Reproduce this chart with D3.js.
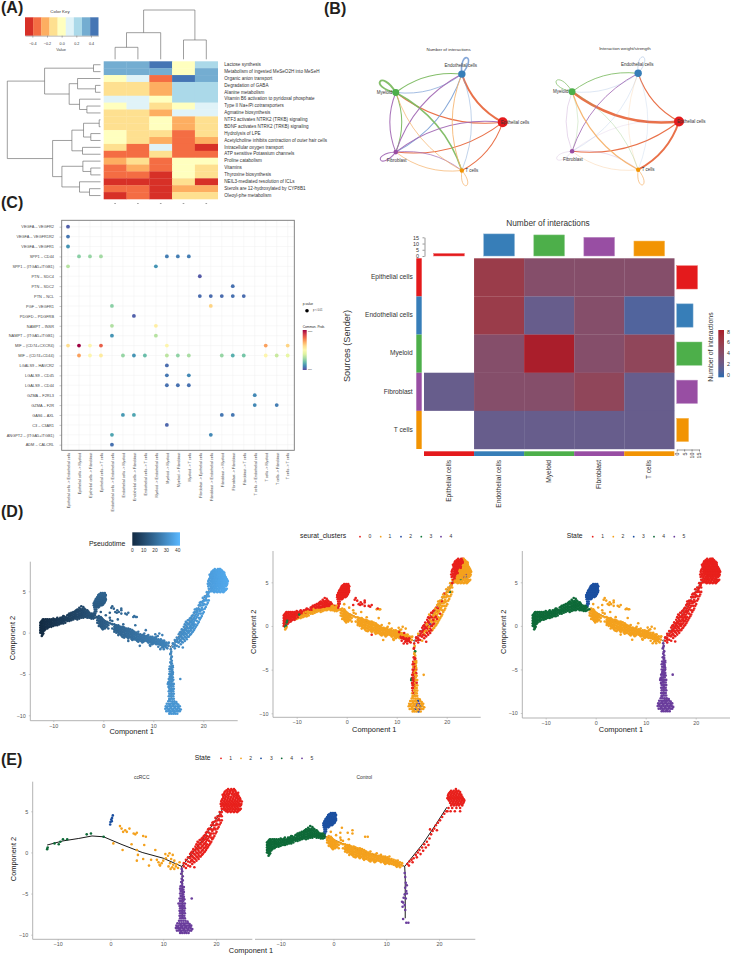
<!DOCTYPE html>
<html>
<head>
<meta charset="utf-8">
<script src="https://cdnjs.cloudflare.com/ajax/libs/d3/7.8.5/d3.min.js"></script>
<style>
  html, body { margin: 0; padding: 0; background: #fff; }
  svg { display: block; font-family: "Liberation Sans", Arial, sans-serif; }
</style>
</head>
<body>
<svg id="figure" width="731" height="956" viewBox="0 0 731 956"></svg>
<script>
// ---- (A) pathway heatmap ----
const pathways = ["Lactose synthesis","Metabolism of ingested MeSeO2H into MeSeH","Organic anion transport","Degradation of GABA","Alanine metabolism","Vitamin B6 activation to pyridoxal phosphate","Type II Na+/Pi cotransporters","Agmatine biosynthesis","NTF3 activates NTRK2 (TRKB) signaling","BDNF activates NTRK2 (TRKB) signaling","Hydrolysis of LPE","Acetylcholine inhibits contraction of outer hair cells","Intracellular oxygen transport","ATP sensitive Potassium channels","Proline catabolism","Vitamins","Thyroxine biosynthesis","NEIL3-mediated resolution of ICLs","Sterols are 12-hydroxylated by CYP8B1","Oleoyl-phe metabolism"];
const pathwayScores = [
 [.33,.33,.44,0,.22],[.33,.33,.33,0,.33],[0,.11,-.33,.44,.33],[-.11,-.11,-.22,.22,.22],[-.11,-.11,-.22,.22,.22],
 [.11,.11,0,.22,.22],[0,.11,-.11,0,.11],[-.11,-.11,-.22,.11,.11],[-.11,-.11,0,-.22,-.11],[-.11,-.11,0,-.22,-.11],
 [0,-.11,-.11,-.33,-.11],[0,-.11,-.22,-.33,-.22],[-.11,-.33,.11,-.33,-.44],[-.33,-.33,-.11,-.33,-.33],[-.22,-.11,-.33,0,0],
 [-.33,-.22,-.33,0,-.11],[-.33,-.33,-.44,0,-.11],[-.44,-.44,-.44,-.11,-.44],[-.33,-.33,-.44,-.22,-.22],[-.44,-.33,-.44,-.11,-.11]];
const keyColors = ["#d73027","#f46d43","#fdae61","#fee090","#ffffbf","#e0f3f8","#abd9e9","#74add1","#4575b4"];
const keyTicks = [-0.4,-0.2,0,0.2,0.4];
// dendrograms: [merge height, child, child]; numbers are leaf positions
const rowTree = [10,[6,[.75,0,1],[3.36,[2.46,2,[.54,3,4]],[2.25,5,[1.46,6,7]]]],[5.14,[3.07,[1.82,[.14,8,9],[1.04,10,11]],[1.93,12,13]],[4.14,[1.89,14,[1.04,15,16]],[2.25,17,[1.18,18,19]]]]];
const colTree = [10,[5.4,[2.43,0,1],2],[3.92,3,4]];

// ---- (B) cell-cell communication networks ----
const cellTypes = ["Epithelial cells","Endothelial cells","Myeloid","Fibroblast","T cells"];
const cellColors = ["#E41A1C","#377EB8","#4DAF4A","#984EA3","#F29403"];
const edgeColors = ["#E8693F","#7FA3D6","#7DBB62","#A36BB5","#F5B26B"];
const nodeRadius = [5,3.7,3.4,2.3,2.2];
const countEdges = [[0,1,2.2],[0,2,1],[0,3,1],[0,4,1],[1,2,.8],[1,3,1],[1,4,.6],[2,1,1],[2,3,1],[2,4,1.6],[3,0,1],[3,1,1],[3,2,1],[3,4,.8],[4,1,.9],[4,2,.8],[4,3,.8],[1,1,1.8],[2,2,2.2],[3,3,1],[4,4,.8]];
const weightEdges = [[0,1,1],[0,2,3.4],[0,3,1],[0,4,2.4],[1,2,.35],[1,3,.3],[1,4,.25],[2,1,.9],[2,3,.35],[2,4,.4],[3,0,.15],[3,1,.9],[3,2,.35],[3,4,.3],[4,1,.3],[4,2,1.2],[4,3,.4],[1,1,.5],[2,2,.8],[3,3,.25],[4,4,.8]];

// ---- (C) ligand-receptor dot plot ----
const lrPairs = ["VEGFA – VEGFR2","VEGFA – VEGFR1R2","VEGFA – VEGFR1","SPP1 – CD44","SPP1 – (ITGA5+ITGB1)","PTN – SDC4","PTN – SDC2","PTN – NCL","PGF – VEGFR1","PDGFD – PDGFRB","NAMPT – INSR","NAMPT – (ITGA5+ITGB1)","MIF – (CD74+CXCR4)","MIF – (CD74+CD44)","LGALS9 – HAVCR2","LGALS9 – CD45","LGALS9 – CD44","GZMA – F2RL3","GZMA – F2R","GAS6 – AXL","C3 – C3AR1","ANGPT2 – (ITGA5+ITGB1)","ADM – CALCRL"];
const cellPairs = ["Epithelial cells -> Endothelial cells","Epithelial cells -> Myeloid","Epithelial cells -> Fibroblast","Epithelial cells -> T cells","Endothelial cells -> Endothelial cells","Endothelial cells -> Myeloid","Endothelial cells -> Fibroblast","Endothelial cells -> T cells","Myeloid -> Endothelial cells","Myeloid -> Myeloid","Myeloid -> Fibroblast","Myeloid -> T cells","Fibroblast -> Epithelial cells","Fibroblast -> Endothelial cells","Fibroblast -> Myeloid","Fibroblast -> Fibroblast","Fibroblast -> T cells","T cells -> Endothelial cells","T cells -> Myeloid","T cells -> Fibroblast","T cells -> T cells"];
// [ligand-receptor row, cell pair column, relative communication probability]
const commProb = [[0,0,.03],[1,0,.07],[2,0,.12],[3,1,.25],[3,2,.27],[3,3,.29],[3,9,.08],[3,10,.08],[3,11,.08],[4,0,.32],[4,8,.12],
 [5,12,.02],[6,15,.06],[7,12,.05],[7,13,.05],[7,14,.05],[7,15,.06],[7,16,.05],[8,4,.25],[8,13,.62],[9,6,.03],[10,4,.31],[10,8,.55],[11,4,.12],[11,8,.32],
 [12,0,.6],[12,1,1],[12,2,.52],[12,3,.83],[12,9,.52],[12,18,.72],[12,20,.62],
 [13,1,.72],[13,2,.52],[13,3,.56],[13,5,.27],[13,6,.12],[13,7,.2],[13,9,.33],[13,10,.26],[13,11,.3],[13,14,.27],[13,15,.17],[13,16,.22],[13,18,.52],[13,19,.35],[13,20,.42],
 [14,9,.05],[15,9,.07],[15,11,.1],[16,9,.06],[16,10,.06],[16,11,.06],[17,17,.1],[18,17,.1],[18,19,.08],[19,5,.13],[19,6,.15],[19,14,.07],[19,15,.07],[20,9,.04],[21,4,.15],[21,13,.1],[22,4,.06]];

// ---- (C) interaction count heatmap ----
const interactionCounts = [[null,6,4,4,4],[null,6,2,4,1],[null,4,8,4,5],[2,4,4,5,2],[null,2,2,2,2]];
const incomingTotals = [2,17.7,16.9,15,12];
const outgoingTotals = [14,11,17,14,8];
const totalTicks = [0,5,10,15];
const countLegendTicks = [0,2,4,6,8];

// ---- (D, E) single-cell trajectory; each point is [component 1, component 2, seurat cluster] ----
const ccrccState1 = [[13.9,-1.7,0],[13.9,-1.3,0],[14.3,-1.9,0],[14.3,-1.4,0],[14.3,-.9,1],[14.7,-1.6,0],[14.7,-1.1,0],[14.7,-.6,0],[15.1,-1.7,1],[15.1,-1.2,0],[15.1,-.7,0],[15.1,-.2,0],[15.5,-1.4,0],[15.5,-.9,1],[15.5,-.4,0],[15.5,.1,0],[15.9,-1.8,0],[15.9,-1.2,0],[15.9,-.7,0],[15.9,-.2,0],[15.9,.3,1],[16.3,-1,0],[16.3,-.5,1],[16.3,0,0],[16.3,.5,0],[16.3,1,0],[16.7,-.8,0],[16.7,-.3,0],[16.7,.2,4],[16.7,.7,1],[16.7,1.2,0],[17.1,-.5,1],[17.1,0,0],[17.1,.5,1],[17.1,1,0],[17.1,1.5,0],[17.5,-.2,1],[17.5,.3,0],[17.5,.8,1],[17.5,1.3,1],[17.5,1.8,0],[17.9,.1,1],[17.9,.6,1],[17.9,1.1,0],[17.9,1.6,1],[17.9,2.1,0],[18.3,.5,1],[18.3,1,1],[18.3,1.5,1],[18.3,2,0],[18.3,2.5,1],[18.7,.9,1],[18.7,1.4,0],[18.7,1.9,1],[18.7,2.4,1],[18.7,2.9,1],[19.1,1.3,1],[19.1,1.8,1],[19.1,2.3,1],[19.1,2.8,0],[19.1,3.3,1],[19.5,1.8,1],[19.5,2.3,1],[19.5,2.8,1],[19.5,3.3,1],[19.5,3.7,0],[19.9,2.3,1],[19.9,2.8,1],[19.9,3.3,1],[19.9,3.8,1],[19.9,4.2,1],[20.3,2.9,1],[20.3,3.4,1],[20.3,3.9,1],[20.3,4.4,1],[20.7,3.4,1],[20.7,3.9,3],[20.7,4.4,1],[20.7,4.9,1],[21.1,3.9,1],[21.1,4.4,1],[21.1,4.9,0],[21.1,5.3,1],
 [15.3,-1,0],[15.3,-.5,0],[15.3,0,0],[15.7,-1.1,0],[15.7,-.6,1],[15.7,-.1,0],[15.7,.4,0],[16.1,-.8,0],[16.1,-.3,0],[16.1,.2,1],[16.1,.7,0],[16.5,-.6,0],[16.5,-.1,1],[16.5,.4,0],[16.5,.9,0],[16.5,1.3,1],[16.9,-.5,0],[16.9,0,0],[16.9,.5,1],[16.9,1,0],[16.9,1.5,0],[17.3,-.3,1],[17.3,.2,0],[17.3,.7,0],[17.3,1.2,1],[17.3,1.7,0],[17.7,0,1],[17.7,.5,1],[17.7,1,0],[17.7,1.5,1],[17.7,2,1],[18.1,.3,1],[18.1,.8,0],[18.1,1.3,1],[18.1,1.8,1],[18.1,2.4,1],[18.5,.7,1],[18.5,1.7,1],[18.5,2.8,1],[18.9,1.1,1],[18.9,2.1,1],[19.3,1.6,1],[19.3,2.6,1],[19.3,3.6,1],[19.7,2,1],[19.7,3,1],[20.1,2.5,1],[20.1,3.5,1],[20.5,3.1,1],[20.5,4.1,1],[20.9,3.6,1],[20.9,4.6,1],
 [22.3,7.7,0],[22.9,7.7,0],[23.4,7.7,1],[21.7,7.4,0],[22.2,7.4,0],[22.7,7.4,0],[23.2,7.4,0],[23.7,7.4,1],[21.5,7.1,0],[22,7.1,0],[22.5,7.1,0],[23,7.1,0],[23.5,7.1,1],[24,7.1,1],[21.4,6.8,0],[21.9,6.8,0],[22.4,6.8,0],[22.9,6.8,0],[23.4,6.8,1],[23.9,6.8,1],[24.3,6.8,1],[21.2,6.5,0],[21.7,6.5,0],[22.2,6.5,0],[22.7,6.5,1],[23.2,6.5,1],[23.7,6.5,1],[24.2,6.5,1],[24.6,6.5,1],[21,6.2,0],[21.5,6.2,0],[22,6.2,0],[22.5,6.2,1],[23,6.2,1],[23.5,6.2,1],[24,6.2,1],[24.5,6.2,1],[24.9,6.2,1],[20.9,5.9,0],[21.4,5.9,0],[21.9,5.9,0],[22.4,5.9,1],[22.9,5.9,1],[23.4,5.9,1],[23.9,5.9,4],[24.4,5.9,1],[24.8,5.9,1],[21,5.6,0],[21.5,5.6,0],[22,5.6,1],[22.5,5.6,1],[23,5.6,1],[23.5,5.6,4],[24,5.6,2],[24.5,5.6,1],[21.3,5.3,0],[21.8,5.3,1],[22.3,5.3,1],[22.8,5.3,3],[23.3,5.3,1],[23.8,5.3,1],[24.3,5.3,1],[24.7,5.3,1],[21.9,5,1],[22.5,5,1],[23.1,5,1],[23.7,5,1],[24.2,5,1],
 [21.25,7,0],[21.8,6.65,0],[22.3,6.95,0],[22.8,6.65,0],[23.3,6.95,1],[23.8,6.65,1],[21.2,6,0],[21.7,6.05,0],[22.2,6.05,0],[22.7,6.05,1],[23.2,6.05,1],[23.7,6.05,1],[24.2,6.05,1],[21.6,5.45,0],[22.1,5.45,1],[22.6,5.45,1],[23.1,5.45,1],[23.6,5.45,1],[24.1,5.45,1],
 [22,7.55,0],[22.6,7.55,0],[23.1,7.55,0],[23.6,7.55,1],[21.6,7.25,0],[22.15,7.25,0],[22.65,7.25,0],[23.2,7.25,0],[23.75,7.25,1],[24.2,7.25,1],[21.7,6.95,0],[23.8,6.95,1],[24.2,6.95,1],[21.4,6.65,0],[22.3,6.65,0],[23.3,6.65,1],[24,6.65,1],[24.5,6.65,1],[21.1,6.35,0],[21.6,6.35,0],[22.1,6.35,0],[22.6,6.35,1],[23.1,6.35,1],[23.6,6.35,1],[24.1,6.35,1],[24.6,6.35,1],[21.2,5.75,0],[21.7,5.75,0],[22.2,5.75,1],[22.7,5.75,1],[23.2,5.75,1],[23.7,5.75,1],[24.2,5.75,1],[24.7,5.75,1],[21.6,5.15,1],[22.1,5.15,1],[22.6,5.15,1],[23.1,5.15,1],[23.6,5.15,1],[24.1,5.15,1],[24.5,5.15,1],[22.2,4.9,1],[22.8,4.9,1],[23.4,4.9,1],[24,4.9,1]];
const ccrccState2 = [[1.8,3.2,0],[2.8,2.7,0],[2.1,2.9,0],[3.1,2.5,0],[2.4,2.5,0],[3.6,2.9,0],[4.4,2.3,0],[5,2.4,0],[4.7,2.2,0],[6.2,2,0],[6.7,1.9,1],[.55,1.1,1],[4,1,1],[6.4,.9,1],[2.3,.3,1],[5,.3,1],[8.5,.3,1],[5.2,-.3,1],[5,-1,0],[6.2,-.8,1],[7.7,-.9,1],[8.8,-.9,1],[7.3,-1.6,1],[9.4,-1.6,1],[10,-1,1],[10.4,-.2,1],[11.2,-.1,1],[11.8,-.3,1],[10.5,-.7,0],[11.5,-.8,0],[12.1,-1,1],[11.3,-1.3,0],[11.9,-1.5,0],[12.5,-1.4,0],[13.1,-1.2,1],[11.4,-2,0],[12.1,-2,0],[12.8,-1.9,0],[9.1,-1.2,1],[9.3,-1.5,1],[11,-1.7,0],[11.7,-1.8,0],[12.4,-1.7,0],[10.9,-.4,1],[9.7,-1.3,1]];
const ccrccState3 = [[.45,4.5,0],[.3,4.2,0],[.15,4,0],[0,3.7,0],[-.05,3.4,0],[.25,3.8,0]];
const ccrccState4 = [[-12,.4,3],[-11.9,.6,3],[-10.6,1.1,0],[-9.5,1.3,3],[-9,1.6,0],[-9.8,1,0],[-8.2,1.6,1],[-4.5,2.2,0],[-3.7,2.3,0],[-1.3,1.9,1]];
const ccrccState5 = [[13.5,-2,0],[13.6,-2.3,1],[13.4,-2.6,0],[13.7,-2.9,3],[13.5,-3.2,1],[13.7,-3.4,1],[13.4,-3.6,0],[13.6,-3.8,0],[13.3,-4.1,0],[13.6,-4.1,1],[13.9,-4.2,1],[13.2,-4.4,0],[13.5,-4.4,0],[13.8,-4.5,1],[13.3,-4.7,1],[13.6,-4.7,0],[13.9,-4.8,1],[13.2,-5,0],[13.5,-5,0],[13.8,-5.1,1],[13.3,-5.3,0],[13.6,-5.3,1],[13.9,-5.4,0],[13.1,-5.6,0],[13.4,-5.6,0],[13.7,-5.6,1],[14,-5.7,1],[13.2,-5.9,0],[13.5,-5.9,0],[13.8,-5.9,1],[12.9,-6.2,3],[13.2,-6.2,0],[13.5,-6.2,0],[13.8,-6.2,1],[14.1,-6.2,1],[13.1,-6.5,0],[13.4,-6.5,0],[13.7,-6.5,1],[14,-6.5,0],[13.2,-6.8,0],[13.5,-6.8,0],[13.8,-6.8,1],[14.1,-6.8,1],[13.1,-7.1,0],[13.4,-7.1,0],[13.7,-7.1,1],[14,-7.1,1],[13.2,-7.4,0],[13.5,-7.4,1],[13.8,-7.4,1],[14.1,-7.4,1],[13.1,-7.7,1],[13.4,-7.7,0],[13.7,-7.7,1],[14,-7.7,1],[13.2,-8,1],[13.5,-8,1],[13.8,-8,1],[14.1,-8,1],[15.4,-5.6,1],
 [13,-8.3,1],[13.4,-8.3,1],[13.8,-8.3,1],[14.2,-8.3,1],[14.6,-8.4,1],[12.7,-8.6,1],[13.1,-8.6,1],[13.5,-8.6,1],[13.9,-8.6,1],[14.3,-8.6,2],[14.7,-8.6,1],[15,-8.7,1],[12.5,-8.9,1],[12.9,-8.9,1],[13.3,-8.9,1],[13.7,-8.9,1],[14.1,-8.9,2],[14.5,-8.9,4],[14.9,-8.9,1],[15.3,-8.9,1],[12.4,-9.2,1],[12.8,-9.2,1],[13.2,-9.2,1],[13.6,-9.2,1],[14,-9.2,4],[14.4,-9.2,1],[14.8,-9.2,2],[15.2,-9.2,1],[15.5,-9.3,1],[12.6,-9.5,1],[13,-9.5,1],[13.4,-9.5,1],[13.8,-9.5,2],[14.2,-9.5,1],[14.6,-9.5,4],[15,-9.5,1],[15.3,-9.5,1],[13.2,-9.8,1],[13.6,-9.8,1],[14,-9.8,1],[14.4,-9.8,2],[14.8,-9.8,1],[13.3,-8.75,1],[14,-8.75,1],[12.7,-9.05,1],[13.5,-9.05,1],[14.3,-9.05,1],[15,-9.05,1],[13.1,-9.35,1],[13.9,-9.35,1],[14.7,-9.35,1],[13.4,-9.65,1],[14.2,-9.65,1]];
const controlState1 = [[14,-1.4,0],[14.4,-1.1,0],[14.3,-1.6,0],[14.8,-.9,0],[15.2,-.7,1],[15,-1.2,0],[15.6,-.3,0],[16,0,1],[15.8,-.6,0],[16.3,.3,0],[16.5,-.2,1],[16.8,.6,0],[17,.2,1],[17.2,1,1],[17.5,.6,0],[17.7,1.3,1],[18,.9,1],[18.2,1.7,0],[18.5,2.2,1],[18.8,2.6,1],[18.3,2.8,1],[19.1,2.9,1],[19.4,3.3,1],[19.8,3.6,1],[20.2,3.9,1],[19.6,2.7,1],[20.6,4.3,1],[21,4.7,1],[21.4,5,0],
 [23.2,7.7,0],[22.3,7.5,0],[22.8,7.5,0],[23.3,7.5,0],[23.7,7.5,1],[21.9,7.2,0],[22.4,7.2,0],[22.9,7.2,0],[23.4,7.2,1],[23.9,7.2,1],[21.7,6.9,0],[22.2,6.9,0],[22.7,6.9,0],[23.2,6.9,1],[23.7,6.9,1],[24.2,6.9,1],[21.6,6.6,0],[22.1,6.6,0],[22.6,6.6,0],[23.1,6.6,1],[23.6,6.6,1],[24.1,6.6,1],[24.5,6.6,1],[21.9,6.3,0],[22.4,6.3,0],[22.9,6.3,1],[23.4,6.3,1],[23.9,6.3,1],[24.4,6.3,1],[24.8,6.3,1],[22.1,6,0],[22.6,6,1],[23.1,6,1],[23.6,6,4],[24.1,6,1],[24.6,6,1],[22.3,5.7,1],[22.8,5.7,1],[23.3,5.7,1],[23.8,5.7,1],[24.4,5.7,1],[21.8,5.4,0],[22.5,5.4,1],[23.3,5.4,2],[24,5.4,1],[21.6,5,1],[22.2,5,1],[23,5,1],[24,5,1],
 [22.1,7.35,0],[22.6,7.35,0],[23.1,7.35,0],[23.5,7.35,1],[24,7.35,1],[21.8,7.05,0],[22.3,7.05,0],[22.8,7.05,0],[23.3,7.05,1],[23.8,7.05,1],[24.2,7.05,1],[21.9,6.75,0],[22.4,6.75,0],[22.9,6.75,1],[23.4,6.75,1],[23.9,6.75,1],[24.4,6.75,1],[21.8,6.45,0],[22.3,6.45,0],[22.8,6.45,1],[23.3,6.45,1],[23.8,6.45,1],[24.3,6.45,1],[24.7,6.45,1],[22.2,6.15,0],[22.7,6.15,1],[23.2,6.15,1],[23.7,6.15,1],[24.2,6.15,1],[24.7,6.15,1],[22.4,5.85,1],[22.9,5.85,1],[23.4,5.85,1],[23.9,5.85,1],[24.4,5.85,1]];
const controlState2 = [[-1.2,1.8,1],[-1.2,1.5,1],[-1.2,1.2,1],[-.9,2,1],[-.9,1.7,1],[-.9,1.4,1],[-.9,1.1,1],[-.9,.8,1],[-.5,1.9,1],[-.5,1.6,1],[-.5,1.3,1],[-.5,1,1],[-.5,.7,1],[-.1,1.6,1],[-.1,1.3,1],[-.1,1,1],[-.1,.7,1],[-.1,.4,1],[.3,1.4,1],[.3,1.1,1],[.3,.8,1],[.3,.5,1],[.7,1.3,1],[.7,1,1],[.7,.7,1],[1,1.2,1],[1,.9,1],[1,.5,1],[1.4,1.5,1],[1.4,1.1,1],[1.8,1.4,1],[1.8,1,1],[1.8,.5,1],[2.2,1,1],[2.2,.7,1],[2.2,.4,1],[2.2,.1,1],[2.6,.9,1],[2.6,.6,1],[2.6,.3,1],[2.6,0,1],[3,.9,1],[3,.6,1],[3,.3,1],[3,0,1],[3,-.3,1],[3.4,.7,1],[3.4,.4,1],[3.4,.1,1],[3.4,-.2,1],[3.8,.7,1],[3.8,.4,1],[3.8,.1,1],[3.8,-.2,1],[3.8,-.5,1],[4.2,.6,1],[4.2,.3,1],[4.2,0,1],[4.2,-.3,1],[4.2,-.6,1],[4.6,.5,1],[4.6,.2,1],[4.6,-.1,1],[4.6,-.4,1],[5,.5,1],[5,.2,1],[5,-.1,1],[5,-.4,1],[5,-.7,1],[5.4,.4,1],[5.4,.1,1],[5.4,-.2,1],[5.4,-.5,1],[5.8,.3,1],[5.8,0,1],[5.8,-.3,1],[5.8,-.6,1],[5.8,-.9,1],[6.2,.1,1],[6.2,-.2,1],[6.2,-.5,1],[6.2,-.8,1],[6.6,0,1],[6.6,-.3,1],[6.6,-.6,1],[6.6,-.9,1],[7,.1,1],[7,-.2,1],[7,-.5,1],[7,-.8,1],[7,-1.1,1],[7.4,-.2,1],[7.4,-.5,1],[7.4,-.8,1],[7.8,-.3,1],[7.8,-.6,1],[7.8,-.9,1],[7.8,-1.2,1],[8.2,-.1,1],[8.2,-.4,1],[8.2,-.7,1],[8.2,-1,1],[8.6,-.4,1],[8.6,-.7,1],[8.6,-1,1],[9,-.3,1],[9,-.6,1],[9,-.9,1],[9,-1.2,1],[9.4,-.5,1],[9.4,-.8,1],[9.4,-1.1,1],[9.8,-.5,1],[9.8,-.8,1],[9.8,-1.1,1],[9.8,-1.4,1],[10.2,-.6,1],[10.2,-.9,1],[10.2,-1.2,1],[10.6,-.5,1],[10.6,-.8,1],[10.6,-1.1,0],[10.6,-1.4,1],[11,-.8,1],[11,-1.1,1],[11,-1.4,0],[11.4,-.9,1],[11.4,-1.2,0],[11.4,-1.5,0],[11.8,-1,1],[11.8,-1.3,1],[11.8,-1.6,0],[12.2,-1,1],[12.2,-1.3,0],[12.2,-1.6,0],[12.6,-1.2,1],[12.6,-1.5,1],[12.6,-1.8,0],[13,-1.3,1],[13,-1.6,1],
 [1.6,3,0],[1.3,2.4,0],[2.7,2.4,0],[3.6,2.7,0],[3.6,2.3,0],[6,1.9,1],[6.5,1.9,1],[-.5,2.5,1],[.5,2.1,1],[1.3,1.8,1],[2.9,1.6,1],
 [-.7,1.75,1],[-.7,1.45,1],[-.7,1.15,1],[-.7,.85,1],[-.3,1.75,1],[-.3,1.45,1],[-.3,1.15,1],[-.3,.85,1],[-.3,.55,1],[.1,1.5,1],[.1,1.2,1],[.1,.9,1],[.1,.6,1],[.5,1.25,1],[.5,.95,1],[.5,.65,1],[2.4,.85,1],[2.4,.55,1],[2.4,.25,1],[2.8,.75,1],[2.8,.45,1],[2.8,.15,1],[3.2,.75,1],[3.2,.45,1],[3.2,.15,1],[3.2,-.15,1],[3.6,.55,1],[3.6,.25,1],[3.6,-.05,1],[3.6,-.35,1],[4,.65,1],[4,.35,1],[4,.05,1],[4,-.25,1],[4,-.55,1],[4.4,.45,1],[4.4,.15,1],[4.4,-.15,1],[4.4,-.45,1],[4.8,.35,1],[4.8,.05,1],[4.8,-.25,1],[4.8,-.55,1],[5.2,.35,1],[5.2,.05,1],[5.2,-.25,1],[5.2,-.55,1],[5.6,.15,1],[5.6,-.15,1],[5.6,-.45,1],[5.6,-.75,1],[6,.15,1],[6,-.15,1],[6,-.45,1],[6,-.75,1],[6.4,-.05,1],[6.4,-.35,1],[6.4,-.65,1],[6.8,-.15,1],[6.8,-.45,1],[6.8,-.75,1],[6.8,-1,1],[7.2,-.35,1],[7.2,-.65,1],[7.2,-.95,1],[7.6,-.45,1],[7.6,-.75,1],[7.6,-1.05,1],[8,-.25,1],[8,-.55,1],[8,-.85,1],[8,-1.1,1],[8.4,-.55,1],[8.4,-.85,1],[8.8,-.45,1],[8.8,-.75,1],[8.8,-1.05,1],[9.2,-.65,1],[9.2,-.95,1],[9.6,-.65,1],[9.6,-.95,1],[9.6,-1.25,1],[10,-.75,1],[10,-1.05,1],[10,-1.3,1],[10.4,-.75,1],[10.4,-1.05,1],[10.4,-1.3,1],[10.8,-.95,1],[10.8,-1.25,0],[11.2,-1.05,1],[11.2,-1.35,0],[11.6,-1.15,1],[11.6,-1.45,0],[12,-1.15,1],[12,-1.45,0],[12,-1.75,0],[12.4,-1.3,1],[12.4,-1.6,0]];
const controlState3 = [[-.5,4.8,0],[-.1,4.8,0],[.3,4.8,0],[-1,4.55,0],[-.6,4.55,0],[-.2,4.55,0],[.2,4.55,0],[.5,4.55,0],[-1.2,4.3,0],[-.8,4.3,0],[-.4,4.3,0],[0,4.3,0],[.4,4.3,0],[-1.5,4.05,0],[-1.1,4.05,0],[-.7,4.05,0],[-.3,4.05,0],[.1,4.05,0],[.5,4.05,0],[-1.7,3.8,0],[-1.3,3.8,0],[-.9,3.8,0],[-.5,3.8,0],[-.1,3.8,0],[.3,3.8,0],[-1.9,3.55,0],[-1.5,3.55,0],[-1.1,3.55,0],[-.7,3.55,0],[-.3,3.55,0],[.1,3.55,0],[-1.9,3.3,0],[-1.5,3.3,0],[-1.1,3.3,0],[-.7,3.3,0],[-.3,3.3,0],[-1.8,3.05,0],[-1.4,3.05,0],[-1,3.05,0],[-1.7,2.8,0],[-1.4,2.8,0],[-1.7,2.55,0],[-1.4,2.55,0],[-1.6,2.3,0],[-1.8,2.3,0],
 [-.8,4.65,0],[-.4,4.65,0],[0,4.65,0],[.35,4.65,0],[-1,4.4,0],[-.6,4.4,0],[-.2,4.4,0],[.2,4.4,0],[-1.3,4.15,0],[-.9,4.15,0],[-.5,4.15,0],[-.1,4.15,0],[.3,4.15,0],[-1.5,3.9,0],[-1.1,3.9,0],[-.7,3.9,0],[-.3,3.9,0],[.1,3.9,0],[.45,3.9,0],[-1.7,3.65,0],[-1.3,3.65,0],[-.9,3.65,0],[-.5,3.65,0],[-.1,3.65,0],[.25,3.65,0],[-1.7,3.4,0],[-1.3,3.4,0],[-.9,3.4,0],[-.5,3.4,0],[-.15,3.4,0],[-1.6,3.15,0],[-1.2,3.15,0],[-.8,3.15,0]];
const controlState4 = [[-12.6,0,0],[-12.6,.3,0],[-12.6,.6,0],[-12.6,.9,0],[-12.6,1.2,0],[-12.3,-.4,1],[-12.3,-.1,3],[-12.3,.2,3],[-12.3,.5,0],[-12.3,.8,0],[-12.3,1.1,0],[-12.3,1.4,0],[-12,-.1,1],[-12,.2,0],[-12,.5,0],[-12,.8,0],[-12,1.1,0],[-12,1.4,0],[-12,1.6,0],[-11.6,.4,0],[-11.6,.7,0],[-11.6,1,0],[-11.6,1.3,0],[-11.6,1.6,0],[-11.2,.5,0],[-11.2,.8,0],[-11.2,1.1,0],[-11.2,1.4,0],[-11.2,1.6,0],[-10.8,.7,0],[-10.8,1,0],[-10.8,1.3,0],[-10.8,1.6,0],[-10.4,.7,0],[-10.4,1,0],[-10.4,1.3,0],[-10.4,1.6,0],[-10,.8,1],[-10,1.1,0],[-10,1.4,0],[-10,1.7,0],[-9.6,.9,1],[-9.6,1.2,0],[-9.6,1.5,0],[-9.2,.9,1],[-9.2,1.2,1],[-9.2,1.5,0],[-9.2,1.8,0],[-8.8,1,1],[-8.8,1.3,1],[-8.8,1.6,0],[-8.4,1.1,1],[-8.4,1.4,1],[-8.4,1.7,0],[-8,1.1,1],[-8,1.4,1],[-8,1.7,0],[-8,2,0],[-7.6,1.2,1],[-7.6,1.5,1],[-7.6,1.8,1],[-7.2,1.4,1],[-7.2,1.7,1],[-7.2,2.1,0],[-6.8,1.4,1],[-6.8,1.7,1],[-6.8,2,0],[-6.8,2.3,0],[-6.4,1.5,1],[-6.4,1.8,1],[-6.4,2.1,0],[-6.4,2.4,0],[-6,1.6,1],[-6,1.9,1],[-6,2.2,0],[-6,2.5,0],[-5.6,1.7,1],[-5.6,2,0],[-5.6,2.3,0],[-5.6,2.6,0],[-5.2,1.6,1],[-5.2,1.9,0],[-5.2,2.2,0],[-5.2,2.5,0],[-5.2,2.8,0],[-4.8,1.7,1],[-4.8,2,1],[-4.8,2.3,0],[-4.8,2.6,0],[-4.8,3,0],[-4.4,1.8,1],[-4.4,2.1,0],[-4.4,2.4,0],[-4.4,2.7,0],[-4.4,3.2,0],[-4,1.8,1],[-4,2.1,1],[-4,2.4,0],[-4,2.7,0],[-4,3.1,0],[-3.6,1.9,1],[-3.6,2.2,1],[-3.6,2.5,0],[-3.6,2.8,0],[-3.2,1.8,1],[-3.2,2.1,1],[-3.2,2.4,0],[-3.2,2.7,0],[-2.8,1.8,1],[-2.8,2.1,1],[-2.8,2.4,1],[-2.4,1.7,1],[-2.4,2,1],[-2.4,2.3,0],[-2,1.7,1],[-2,2,1],[-2,2.3,1],[-1.7,1.8,1],[-1.7,2.1,0],
 [-12.45,.15,0],[-12.45,.45,0],[-12.45,.75,0],[-12.45,1.05,0],[-12.45,1.3,0],[-12.15,-.25,1],[-12.15,.05,3],[-12.15,.35,0],[-12.15,.65,0],[-12.15,.95,0],[-12.15,1.25,0],[-12.15,1.55,0],[-11.8,.25,0],[-11.8,.55,0],[-11.8,.85,0],[-11.8,1.15,0],[-11.8,1.45,0],[-11.4,.65,0],[-11.4,.95,0],[-11.4,1.25,0],[-11.4,1.55,0],[-11,.65,0],[-11,.95,0],[-11,1.25,0],[-11,1.5,0],[-10.6,.85,0],[-10.6,1.15,0],[-10.6,1.45,0],[-10.2,.85,0],[-10.2,1.15,0],[-10.2,1.5,0],[-9.8,1,1],[-9.8,1.3,0],[-9.8,1.6,0],[-9.4,1.05,1],[-9.4,1.35,0],[-9.4,1.65,0],[-9,1.15,1],[-9,1.45,0],[-8.6,1.2,1],[-8.6,1.5,1],[-8.6,1.8,0],[-8.2,1.25,1],[-8.2,1.55,0],[-8.2,1.85,0],[-7.8,1.35,1],[-7.8,1.65,1],[-7.8,1.95,0],[-7.4,1.55,1],[-7.4,1.85,0],[-7,1.55,1],[-7,1.85,0],[-7,2.15,0],[-6.6,1.65,1],[-6.6,1.95,1],[-6.6,2.25,0],[-6.2,1.75,1],[-6.2,2.05,0],[-6.2,2.35,0],[-5.8,1.85,1],[-5.8,2.15,0],[-5.8,2.45,0],[-5.4,1.85,1],[-5.4,2.15,0],[-5.4,2.45,0],[-5.4,2.7,0],[-5,1.85,1],[-5,2.15,0],[-5,2.45,0],[-5,2.75,0],[-4.6,1.95,1],[-4.6,2.25,0],[-4.6,2.55,0],[-4.6,2.85,0],[-4.2,1.95,1],[-4.2,2.25,0],[-4.2,2.55,0],[-4.2,2.85,0],[-3.8,2,1],[-3.8,2.3,0],[-3.8,2.6,0],[-3.8,2.9,0],[-3.4,2,1],[-3.4,2.3,0],[-3.4,2.6,0],[-3,1.95,1],[-3,2.25,1],[-3,2.55,0],[-2.6,1.9,1],[-2.6,2.2,1],[-2.2,1.85,1],[-2.2,2.15,1]];
const controlState5 = [[13.5,-2.5,0],[13.6,-3,1],[13.7,-3.7,0],[13.9,-4,1],[13.6,-4.3,0],[13.8,-4.7,1],[13.5,-5.1,0],[13.9,-5,0],[13.3,-5.5,1],[13.7,-5.6,0],[13,-6,3],[13.2,-6.1,0],[13.5,-6.4,0],[13.1,-6.6,0],[13.6,-7,1],[13.2,-8.1,1],[13.8,-8.55,1],[14.2,-8.55,1]];
const trajectoryBranches = [
 [[-12,.9],[-9,1.4],[-6,1.7],[-3.5,2],[-1.3,1.9],[2,1],[6,0],[10,-.7],[13.5,-1.7]],
 [[13.5,-1.7],[17,1.1],[19.5,3.5],[21.5,5.5]],
 [[13.5,-1.7],[13.6,-3],[13.6,-8]]];
const axisTicksX = [-10,0,10,20];
const axisTicksY = [5,0,-5,-10];
const pseudotimeTicks = [0,10,20,30,40];
// pseudotime read along each state's branch: [coordinate index, coordinate span, pseudotime span]
const pseudotimeAlongState = {1:[0,[13.5,24],[28,37]],2:[0,[-2,13.5],[14,28]],3:[1,[2.3,4.8],[14,18]],4:[0,[-12.6,-1.7],[0,13]],5:[1,[-1.8,-9.8],[28,33]]};
const stateColors = {1:"#E8201C",2:"#F4A11D",3:"#1B4FA0",4:"#0E6A38",5:"#6A3D9C"};
const clusterColors = {0:"#E8201C",1:"#F4A11D",2:"#2A4FA5",3:"#127A3C",4:"#6A3D9C"};

const svg = d3.select("#figure");
svg.append("rect").attr("width",731).attr("height",956).attr("fill","#fff");

function label(g, x, y, str, size, opts = {}) {
  const t = g.append("text").attr("x", x).attr("y", y).attr("font-size", size)
    .attr("fill", opts.fill || "#222").attr("text-anchor", opts.anchor || "start")
    .attr("dominant-baseline", opts.baseline || "middle").text(str);
  if (opts.weight) t.attr("font-weight", opts.weight);
  if (opts.rotate !== undefined) t.attr("transform", `rotate(${opts.rotate} ${x} ${y})`);
  return t;
}

// panel letters
[["(A)",1,12.5],["(B)",324,14],["(C)",1,208],["(D)",1,517],["(E)",1,765]].forEach(([s,x,y]) =>
  label(svg, x, y, s, 16, {weight:"bold", baseline:"alphabetic", fill:"#231f20"}));

// ======== (A) ========
(function pathwayHeatmap() {
  const g = svg.append("g");
  const columns = d3.range(5);
  const x = d3.scaleBand().domain(columns).range([103.7,217.7]);
  const y = d3.scaleBand().domain(pathways).range([61.3,199]);
  const colour = d3.scaleQuantize().domain([-.5,.5]).range(keyColors);
  pathways.forEach((name,r) => {
    g.selectAll(null).data(pathwayScores[r]).enter().append("rect")
      .attr("x",(d,c)=>x(c)).attr("y",y(name)).attr("width",x.bandwidth()+.3).attr("height",y.bandwidth()+.3)
      .attr("fill",d=>colour(d));
    label(g,224.3,y(name)+y.bandwidth()/2,name,4.6,{fill:"#333"});
  });
  columns.forEach(c => { // clipped column captions below the heatmap
    g.append("line").attr("x1",x(c)+x.bandwidth()/2-.8).attr("x2",x(c)+x.bandwidth()/2+.8)
      .attr("y1",203.5).attr("y2",203.5).attr("stroke","#777").attr("stroke-width",.7);
  });
  // dendrograms
  const treeOf = t => d3.hierarchy(t, d => Array.isArray(d) ? d.slice(1) : null);
  const drawTree = (root, leafPos, hPos, horizontal) => {
    root.eachAfter(n => {
      n.pos = n.children ? d3.mean(n.children, k => k.pos) : leafPos(n.data);
      n.h = n.children ? n.data[0] : 0;
    });
    const p = d3.path();
    root.each(n => {
      if (!n.children) return;
      const [a,b] = n.children;
      if (horizontal) {
        p.moveTo(hPos(a.h),a.pos); p.lineTo(hPos(n.h),a.pos); p.lineTo(hPos(n.h),b.pos); p.lineTo(hPos(b.h),b.pos);
      } else {
        p.moveTo(a.pos,hPos(a.h)); p.lineTo(a.pos,hPos(n.h)); p.lineTo(b.pos,hPos(n.h)); p.lineTo(b.pos,hPos(b.h));
      }
    });
    g.append("path").attr("d",p).attr("fill","none").attr("stroke","#6a6a6a").attr("stroke-width",.65);
  };
  drawTree(treeOf(rowTree), i => y(pathways[i])+y.bandwidth()/2, d3.scaleLinear([0,10],[100.5,7.3]), true);
  drawTree(treeOf(colTree), i => x(i)+x.bandwidth()/2, d3.scaleLinear([0,10],[59.3,10]), false);
  // colour key
  const kx = d3.scaleLinear([-.5,.5],[25,98.3]);
  const kb = d3.scaleBand().domain(keyColors).range([25,98.3]);
  g.selectAll(null).data(keyColors).enter().append("rect")
    .attr("x",d=>kb(d)).attr("y",17.3).attr("width",kb.bandwidth()+.2).attr("height",18.4).attr("fill",d=>d);
  const ax = g.append("g").attr("transform","translate(0,35.7)").call(d3.axisBottom(kx).tickValues(keyTicks).tickSize(2).tickSizeOuter(0).tickFormat(d3.format(".1f")));
  ax.select(".domain").attr("stroke","#555").attr("stroke-width",.4);
  ax.selectAll(".tick line").attr("stroke","#555").attr("stroke-width",.4);
  ax.selectAll("text").attr("font-size",3.7).attr("fill","#333").attr("font-family","inherit").attr("dy","1.15em");
  label(g,60,12,"Color Key",4.4,{anchor:"middle",fill:"#333"});
  label(g,61,50,"Value",3.9,{anchor:"middle",fill:"#333"});
})();

// ======== (B) ========
function circlePlot(cx, cy, edges, title, titleY, labelSpots) {
  const g = svg.append("g");
  const angle = d3.scaleLinear().domain([0,5]).range([0,-2*Math.PI]);
  const nodes = cellTypes.map((_,i) => ({x: cx+59.1*Math.cos(angle(i)), y: cy+50.7*Math.sin(angle(i))}));
  const width = d3.scaleLinear([0,3.4],[.35,2.7]);
  const opacity = d3.scaleLinear([.15,1],[.28,.95]).clamp(true);
  const loopAngle = [0,-73,-145,153,74];   // direction of the self-loop of each node, degrees
  const loopLength = [0,25,28,25,23];
  edges.forEach(([s,t,w]) => {
    const p = d3.path(), a = nodes[s], b = nodes[t];
    p.moveTo(a.x,a.y);
    if (s === t) {
      const th = loopAngle[s]*Math.PI/180, L = loopLength[s], sp = .42;
      p.bezierCurveTo(a.x+L*Math.cos(th-sp),a.y+L*Math.sin(th-sp),a.x+L*Math.cos(th+sp),a.y+L*Math.sin(th+sp),a.x,a.y);
    } else {
      const dx = b.x-a.x, dy = b.y-a.y;
      p.quadraticCurveTo((a.x+b.x)/2+.2*dy,(a.y+b.y)/2-.2*dx,b.x,b.y);
    }
    g.append("path").attr("d",p).attr("fill","none").attr("stroke",edgeColors[s])
      .attr("stroke-width",width(w)).attr("stroke-opacity",opacity(w));
  });
  g.selectAll(null).data(nodes).enter().append("circle")
    .attr("cx",d=>d.x).attr("cy",d=>d.y).attr("r",(d,i)=>nodeRadius[i]).attr("fill",(d,i)=>cellColors[i]);
  label(g,cx+5,titleY,title,4.4,{anchor:"middle",fill:"#333"});
  cellTypes.forEach((name,i)=>{
    const [dx,dy,anchor] = labelSpots[i];
    label(g,nodes[i].x+dx,nodes[i].y+dy,name,4.5,{anchor,fill:"#333"});
  });
}
const nodeLabelSpots = [[-2,.3,"start"],[-1,-8.5,"middle"],[-3.5,0,"end"],[-9,8.5,"start"],[3.5,.5,"start"]];
circlePlot(443.6,122.3,countEdges,"Number of interactions",50.3,nodeLabelSpots);
circlePlot(619.9,121.5,weightEdges,"Interaction weight/strength",49.3,nodeLabelSpots);

// ======== (C) dot plot ========
(function dotPlot() {
  const g = svg.append("g");
  const x = d3.scalePoint().domain(cellPairs).range([68,287.7]);
  const y = d3.scalePoint().domain(lrPairs).range([226.7,444.7]);
  const [L,R,T,B] = [61.7,294.3,220.3,450.3];
  g.selectAll(null).data(lrPairs).enter().append("line").attr("x1",L).attr("x2",R)
    .attr("y1",d=>y(d)).attr("y2",d=>y(d)).attr("stroke","#f1f1f1").attr("stroke-width",.5);
  g.selectAll(null).data(cellPairs).enter().append("line").attr("y1",T).attr("y2",B)
    .attr("x1",d=>x(d)).attr("x2",d=>x(d)).attr("stroke","#f1f1f1").attr("stroke-width",.5);
  const colour = t => d3.interpolateSpectral(1-t);
  g.selectAll(null).data(commProb).enter().append("circle")
    .attr("cx",d=>x(cellPairs[d[1]])).attr("cy",d=>y(lrPairs[d[0]])).attr("r",1.9).attr("fill",d=>colour(d[2]));
  g.append("rect").attr("x",L).attr("y",T).attr("width",R-L).attr("height",B-T).attr("fill","none").attr("stroke","#777").attr("stroke-width",.9);
  const left = g.append("g").attr("transform",`translate(${L},0)`).call(d3.axisLeft(y).tickSize(2.2));
  left.select(".domain").remove();
  left.selectAll(".tick line").attr("stroke","#777").attr("stroke-width",.4);
  left.selectAll("text").attr("font-size",3.9).attr("fill","#444").attr("font-family","inherit").attr("dx","-2.5");
  const bottom = g.append("g").attr("transform",`translate(0,${B})`).call(d3.axisBottom(x).tickSize(0));
  bottom.select(".domain").remove();
  bottom.selectAll("text").attr("font-size",3.7).attr("fill","#444").attr("font-family","inherit")
    .attr("text-anchor","end").attr("transform","rotate(-90)").attr("x",-2.5).attr("y",0).attr("dy",".35em");
  // legends
  label(g,302.7,303.7,"p-value",3.2,{fill:"#222"});
  g.append("circle").attr("cx",307).attr("cy",310.7).attr("r",1.8).attr("fill","#000");
  label(g,313,310.7,"p < 0.01",2.6,{fill:"#333"});
  label(g,302.7,326.7,"Commun. Prob.",3.2,{fill:"#222"});
  const defs = svg.append("defs");
  const grad = defs.append("linearGradient").attr("id","spectralBar").attr("x1",0).attr("x2",0).attr("y1",0).attr("y2",1);
  d3.range(0,1.01,.1).forEach(t => grad.append("stop").attr("offset",t).attr("stop-color",d3.interpolateSpectral(t)));
  g.append("rect").attr("x",302.7).attr("y",330).attr("width",4).attr("height",40).attr("fill","url(#spectralBar)");
  label(g,308,331,"max",2.3,{fill:"#333"});
  label(g,308,369.5,"min",2.3,{fill:"#333"});
})();

// ======== (C) interaction heatmap ========
(function interactionHeatmap() {
  const g = svg.append("g");
  const x = d3.scaleBand().domain(cellTypes).range([424,674.3]);
  const y = d3.scaleBand().domain(cellTypes).range([258.3,449]);
  const colour = d3.scaleLinear().domain([0,8]).range(["#2a6aae","#aa1e2b"]).interpolate(d3.interpolateLab);
  interactionCounts.forEach((row,r) => {
    g.selectAll(null).data(row).enter().append("rect")
      .attr("x",(d,c)=>x(cellTypes[c])).attr("y",y(cellTypes[r])).attr("width",x.bandwidth()+.2).attr("height",y.bandwidth()+.2)
      .attr("fill",d=>d===null?"#fff":colour(d));
  });
  // annotation strips
  cellTypes.forEach((n,i)=>{
    g.append("rect").attr("x",416.3).attr("y",y(n)).attr("width",5.4).attr("height",y.bandwidth()).attr("fill",cellColors[i]);
    g.append("rect").attr("x",x(n)).attr("y",451.3).attr("width",x.bandwidth()).attr("height",4.7).attr("fill",cellColors[i]);
    label(g,412.7,y(n)+y.bandwidth()/2,n,6.6,{anchor:"end",fill:"#333"});
    label(g,x(n)+x.bandwidth()/2,460,n,6.6,{anchor:"end",fill:"#333",rotate:-90});
  });
  // marginal bars
  const topY = d3.scaleLinear([0,15],[256,237.3]);
  const rightX = d3.scaleLinear([0,15],[676.7,699]);
  const barW = 30.7, barH = 23.3;
  g.selectAll(null).data(incomingTotals).enter().append("rect")
    .attr("x",(d,i)=>x(cellTypes[i])+x.bandwidth()/2-barW/2).attr("width",barW)
    .attr("y",d=>topY(d)).attr("height",d=>topY(0)-topY(d))
    .attr("fill",(d,i)=>cellColors[i]).attr("stroke",(d,i)=>d3.interpolateRgb(cellColors[i],"#fff")(.35)).attr("stroke-width",.5);
  g.selectAll(null).data(outgoingTotals).enter().append("rect")
    .attr("x",rightX(0)).attr("width",d=>rightX(d)-rightX(0))
    .attr("y",(d,i)=>y(cellTypes[i])+y.bandwidth()/2-barH/2).attr("height",barH)
    .attr("fill",(d,i)=>cellColors[i]).attr("stroke",(d,i)=>d3.interpolateRgb(cellColors[i],"#fff")(.35)).attr("stroke-width",.5);
  const at = g.append("g").attr("transform","translate(424.5,0)").call(d3.axisLeft(topY).tickValues(totalTicks).tickSize(2).tickSizeOuter(0));
  at.selectAll(".domain,.tick line").attr("stroke","#333").attr("stroke-width",.5);
  at.selectAll("text").attr("font-size",5.4).attr("fill","#333").attr("font-family","inherit").attr("dx",-.5);
  const ar = g.append("g").attr("transform","translate(0,449.5)").call(d3.axisBottom(rightX).tickValues(totalTicks).tickSize(2).tickSizeOuter(0));
  ar.selectAll(".domain,.tick line").attr("stroke","#333").attr("stroke-width",.5);
  ar.selectAll("text").attr("font-size",5.4).attr("fill","#333").attr("font-family","inherit")
    .attr("text-anchor","end").attr("transform","rotate(-90)").attr("x",-3).attr("y",0).attr("dy",".35em");
  label(g,548,224,"Number of interactions",8.3,{anchor:"middle",fill:"#333"});
  label(g,348,346,"Sources (Sender)",9.2,{anchor:"middle",fill:"#333",rotate:-90});
  label(g,710.7,347,"Number of interactions",6.9,{anchor:"middle",fill:"#333",rotate:-90});
  // count legend
  const grad = svg.select("defs").append("linearGradient").attr("id","countBar").attr("x1",0).attr("x2",0).attr("y1",1).attr("y2",0);
  d3.range(0,8.01,1).forEach(v => grad.append("stop").attr("offset",v/8).attr("stop-color",colour(v)));
  g.append("rect").attr("x",718.3).attr("y",330).attr("width",5.7).attr("height",47.3).attr("fill","url(#countBar)");
  const ly = d3.scaleLinear([0,8],[375.3,332.3]);
  countLegendTicks.forEach(v => label(g,727,ly(v),v,5.3,{fill:"#333"}));
})();

// ======== (D, E) trajectory panels ========
const withState = (rows, state) => rows.map(([a,b,cluster]) => ({a,b,cluster,state}));
const ccrccCells = [[ccrccState1,1],[ccrccState2,2],[ccrccState3,3],[ccrccState4,4],[ccrccState5,5]].flatMap(([r,s])=>withState(r,s));
const controlCells = [[controlState1,1],[controlState2,2],[controlState3,3],[controlState4,4],[controlState5,5]].flatMap(([r,s])=>withState(r,s));
const allCells = controlCells.concat(ccrccCells);
const pseudotimeColour = d3.scaleLinear().domain([0,40]).range(["#132B43","#56B1F7"]).interpolate(d3.interpolateLab);
const pseudotimeOf = c => {
  const [idx,span,pt] = pseudotimeAlongState[c.state];
  return d3.scaleLinear(span,pt)(idx === 0 ? c.a : c.b);
};

function trajectoryPanel(o) {
  const g = svg.append("g");
  const x = d3.scaleLinear().domain([-10,20]).range(o.xRange);
  const y = d3.scaleLinear().domain([-10,5]).range(o.yRange);
  const line = d3.line().x(d=>x(d[0])).y(d=>y(d[1]));
  trajectoryBranches.forEach(b => g.append("path").attr("d",line(b)).attr("fill","none").attr("stroke","#1a1a1a").attr("stroke-width",o.lineWidth||.6));
  g.selectAll(null).data(o.cells).enter().append("circle")
    .attr("cx",d=>x(d.a)).attr("cy",d=>y(d.b)).attr("r",1.3).attr("fill",o.colour);
  const ax = g.append("g").attr("transform",`translate(0,${o.bottom})`).call(d3.axisBottom(x).tickValues(axisTicksX).tickSize(1.5));
  ax.select(".domain").remove();
  ax.selectAll(".tick line").attr("stroke","#999").attr("stroke-width",.5);
  ax.selectAll("text").attr("font-size",5.4).attr("fill","#555").attr("font-family","inherit").attr("dy",".45em");
  g.append("line").attr("x1",o.axisLeft).attr("x2",o.axisRight).attr("y1",o.bottom).attr("y2",o.bottom).attr("stroke","#aaa").attr("stroke-width",.9);
  if (o.top !== undefined) {
    const ay = g.append("g").attr("transform",`translate(${o.axisLeft},0)`).call(d3.axisLeft(y).tickValues(axisTicksY).tickSize(1.5));
    ay.select(".domain").remove();
    ay.selectAll(".tick line").attr("stroke","#999").attr("stroke-width",.5);
    ay.selectAll("text").attr("font-size",5.4).attr("fill","#555").attr("font-family","inherit");
    g.append("line").attr("x1",o.axisLeft).attr("x2",o.axisLeft).attr("y1",o.top).attr("y2",o.bottom).attr("stroke","#aaa").attr("stroke-width",.9);
    label(g,o.yTitleX,o.yTitleY,"Component 2",7.4,{anchor:"middle",fill:"#222",rotate:-90});
  }
  if (o.xTitleX !== undefined) label(g,o.xTitleX,o.xTitleY,"Component 1",7.4,{anchor:"middle",fill:"#222"});
  if (o.title) label(g,o.titleX,777.3,o.title,4.9,{anchor:"middle",fill:"#333"});
}
function pointLegend(title, titleX, yPos, dots, labels, colours, names) {
  const g = svg.append("g");
  label(g,titleX,yPos,title,6.8,{fill:"#222"});
  dots.forEach((dx,i) => {
    g.append("circle").attr("cx",dx).attr("cy",yPos).attr("r",.9).attr("fill",colours[names[i]]);
    label(g,labels[i],yPos,names[i],5,{fill:"#333",anchor:"middle"});
  });
}
const byState = d => stateColors[d.state];
trajectoryPanel({cells:allCells,colour:d=>pseudotimeColour(pseudotimeOf(d)),xRange:[53.3,203.3],yRange:[715.3,591.3],bottom:720.7,top:561.7,axisLeft:30.3,axisRight:237.7,xTitleX:131.7,xTitleY:732,yTitleX:12.7,yTitleY:638});
trajectoryPanel({cells:allCells,colour:d=>clusterColors[d.cluster],xRange:[296.7,446.7],yRange:[713.3,582.3],bottom:717.3,top:551,axisLeft:273,axisRight:480.7,xTitleX:374.3,xTitleY:730,yTitleX:254.3,yTitleY:631.7});
trajectoryPanel({cells:allCells,colour:byState,xRange:[545.7,695.7],yRange:[713,582.3],bottom:718,top:551,axisLeft:522.3,axisRight:730,xTitleX:621,xTitleY:730,yTitleX:504,yTitleY:631.7});
trajectoryPanel({cells:ccrccCells,colour:byState,xRange:[57.7,216],yRange:[934.7,811.3],bottom:939.3,top:781.7,axisLeft:32.7,axisRight:252.3,yTitleX:14,yTitleY:859,title:"ccRCC",titleX:141.7,lineWidth:1});
trajectoryPanel({cells:controlCells,colour:byState,xRange:[280.7,439],yRange:[934.7,811.3],bottom:939.3,axisLeft:255,axisRight:475.3,xTitleX:251,xTitleY:951,title:"Control",titleX:364.3,lineWidth:1});

// pseudotime colour bar
(function pseudotimeLegend() {
  const g = svg.append("g");
  const grad = svg.select("defs").append("linearGradient").attr("id","pseudoBar");
  d3.range(0,1.01,.1).forEach(t => grad.append("stop").attr("offset",t).attr("stop-color",pseudotimeColour(t*42)));
  label(g,89,543.7,"Pseudotime",6.9,{fill:"#222"});
  g.append("rect").attr("x",132.3).attr("y",532.3).attr("width",47.7).attr("height",13.4).attr("fill","url(#pseudoBar)");
  const tx = d3.scaleLinear([0,40],[132.3,177.7]);
  pseudotimeTicks.forEach(v => label(g,tx(v),551,v,4.8,{anchor:"middle",fill:"#333"}));
})();
const clusterNames = [0,1,2,3,4], stateNames = [1,2,3,4,5];
pointLegend("seurat_clusters",300,536.7,[360,380.7,401,421.3,441],[370,390,410.7,431,451],clusterColors,clusterNames);
pointLegend("State",566.7,536.7,[592.7,613.3,633.7,654,674.3],[602.7,623,643.3,663.7,684],stateColors,stateNames);
pointLegend("State",194.7,758.3,[221,241,261,281.7,302],[230.7,250.7,271.3,291.7,312],stateColors,stateNames);
</script>
</body>
</html>
